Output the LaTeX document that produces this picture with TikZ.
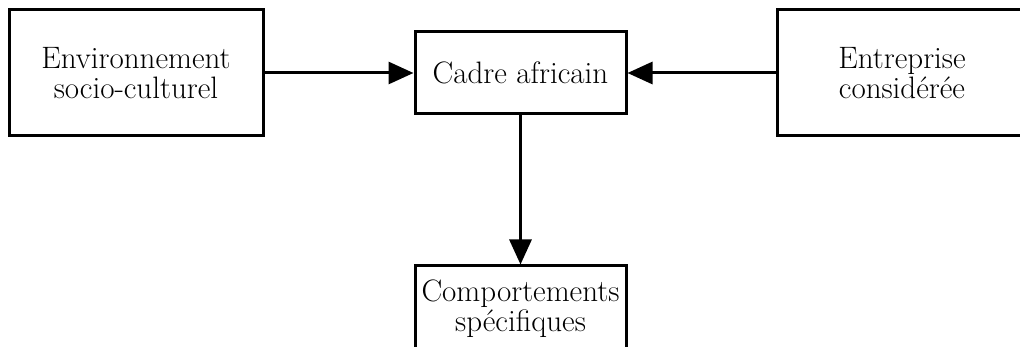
\documentclass[tikz,border=0pt]{standalone}
\usetikzlibrary{arrows.meta}
\begin{document}
\begin{tikzpicture}[x=1pt,y=-1pt,
  box/.style={draw,line width=3pt,rectangle,align=center,inner sep=0pt,
    font=\fontsize{31}{30}\selectfont},
  conn/.style={line width=3pt,-{Triangle[length=25pt,width=22pt]}}]
\useasboundingbox (0,0) rectangle (1020,347);
\node[box,minimum width=254pt,minimum height=126pt] (env) at (136,73) {Environnement\\socio-culturel};
\node[box,minimum width=211pt,minimum height=82pt] (cadre) at (520.5,73) {Cadre africain};
\node[box,minimum width=250pt,minimum height=126pt] (ent) at (902,73) {Entreprise\\considérée};
\node[box,minimum width=211pt,minimum height=86pt] (comp) at (520.5,309) {Comportements\\spécifiques};
\draw[conn] (env.east) -- (cadre.west);
\draw[conn] (ent.west) -- (cadre.east);
\draw[conn] (cadre.south) -- (comp.north);
\end{tikzpicture}
\end{document}
